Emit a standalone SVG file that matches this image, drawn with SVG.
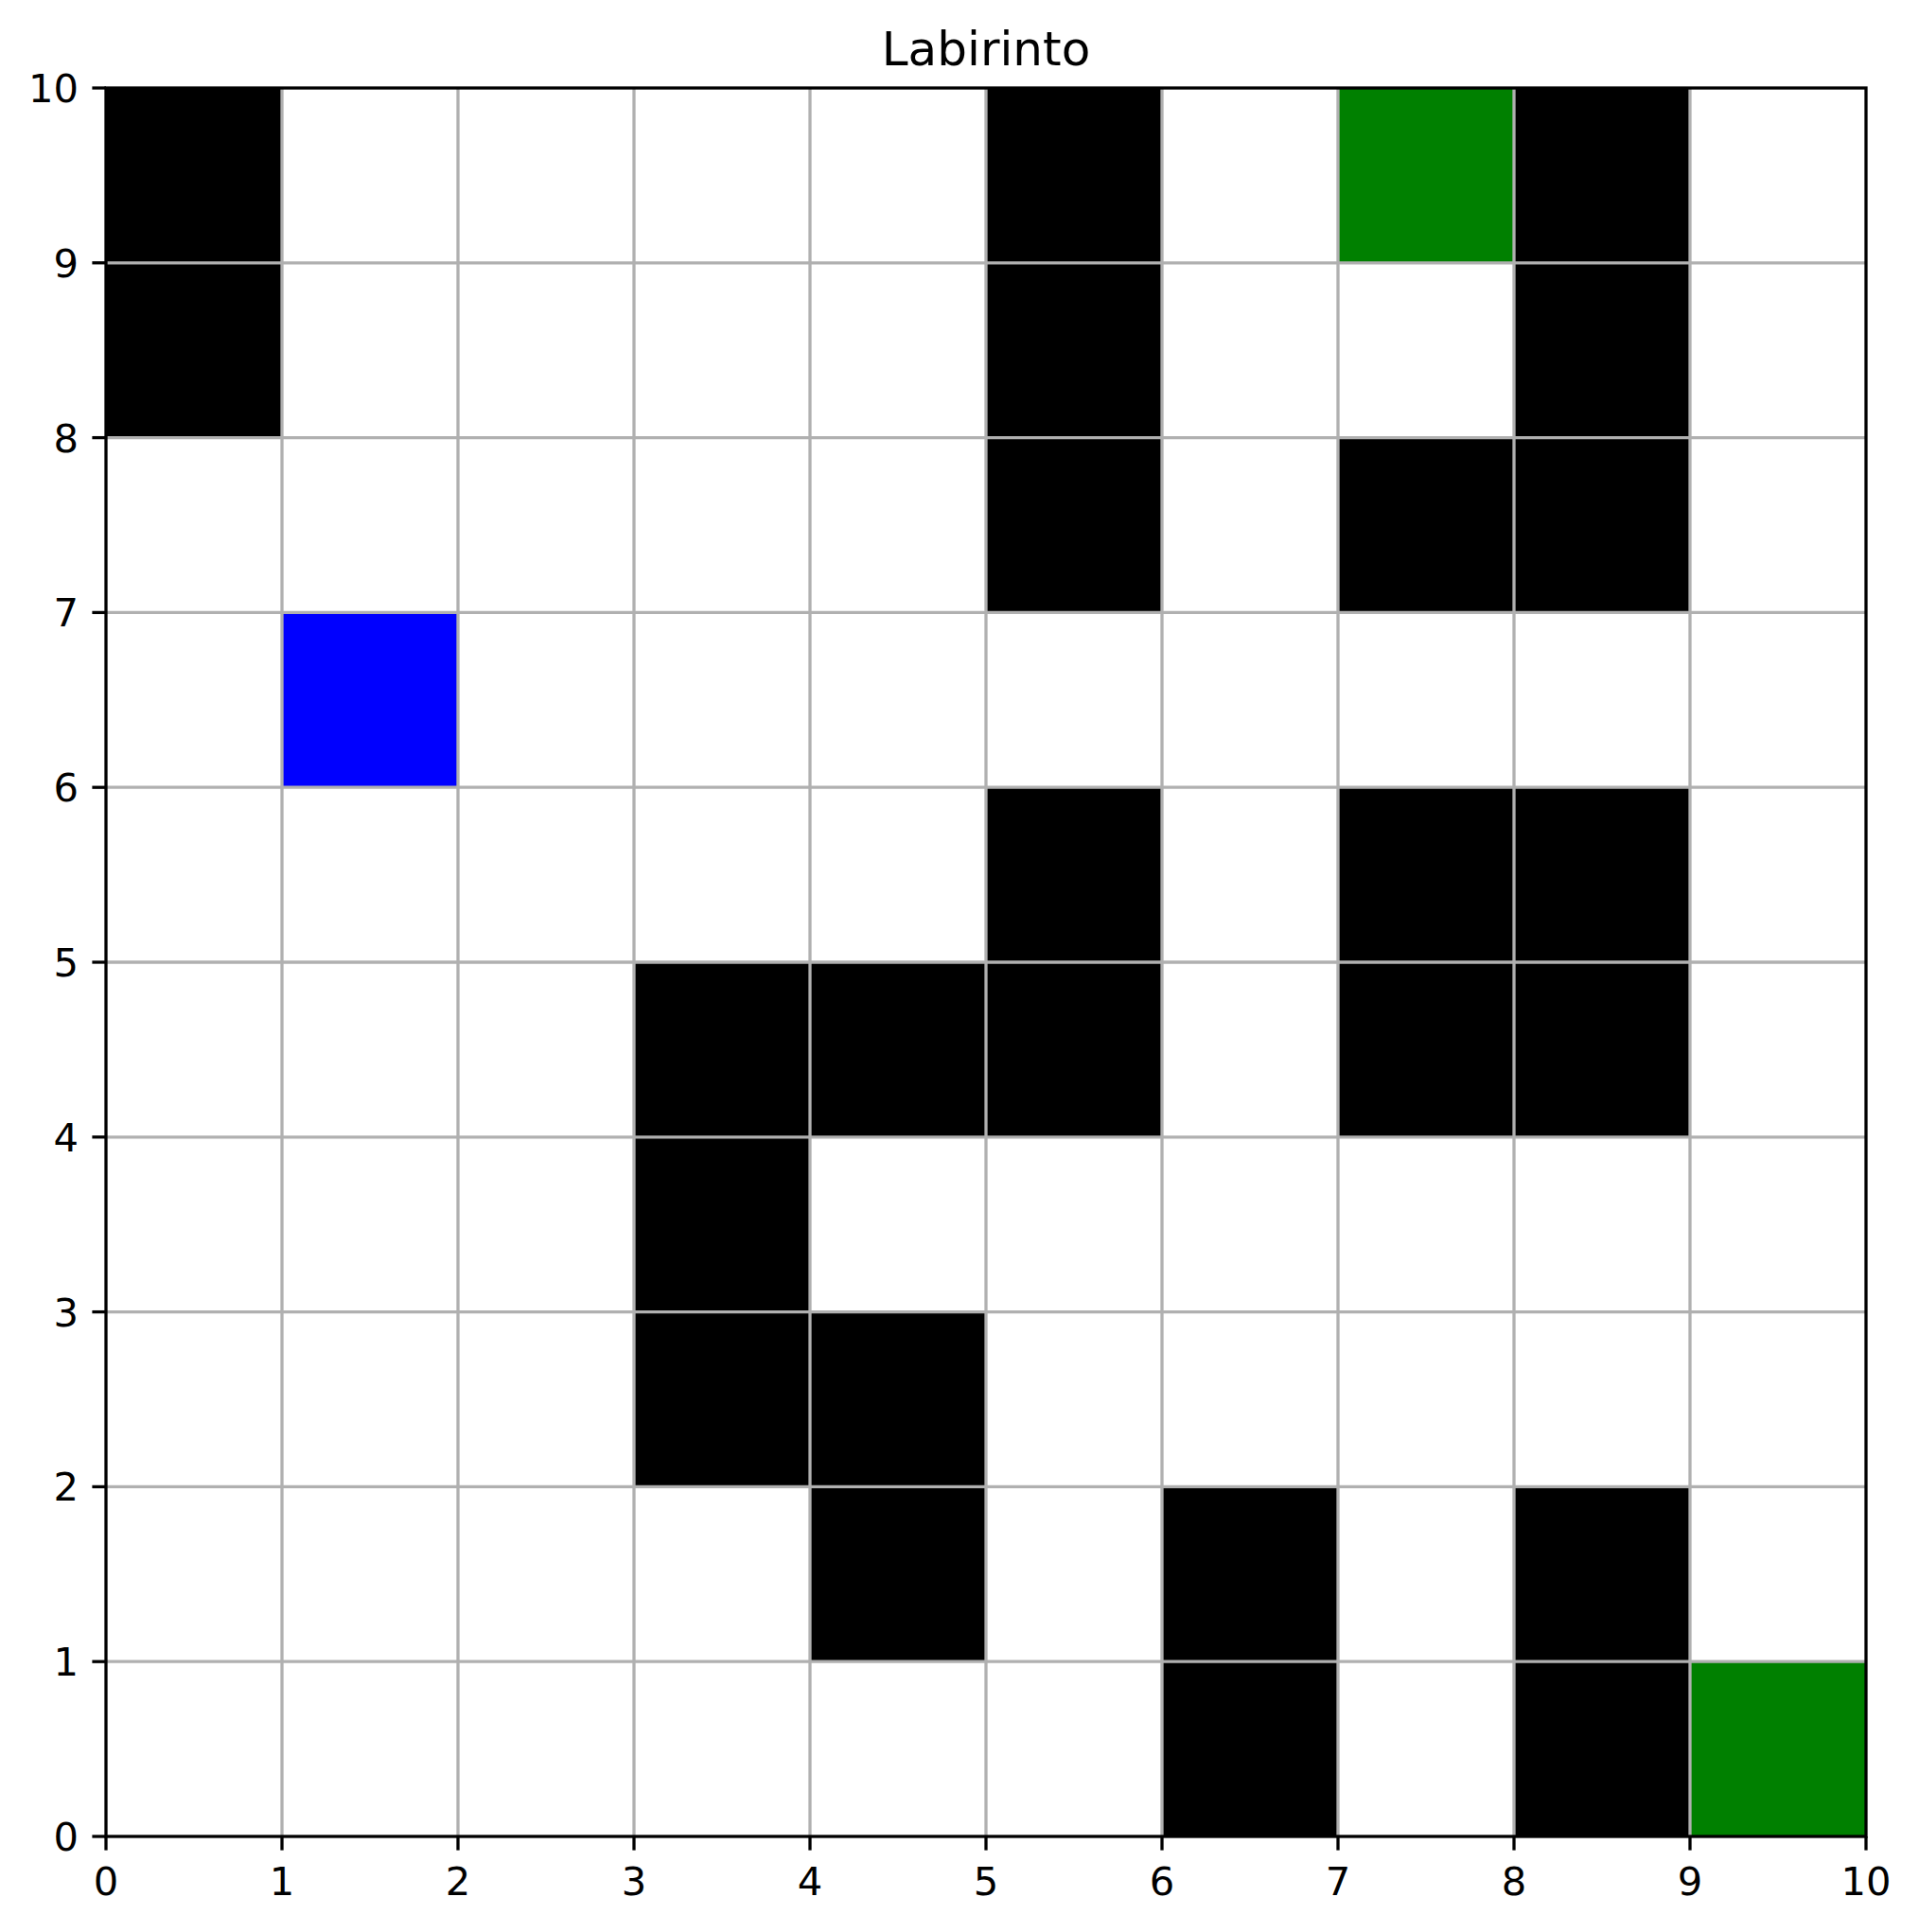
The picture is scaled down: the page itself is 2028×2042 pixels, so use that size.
<svg xmlns="http://www.w3.org/2000/svg" width="2028" height="2042" viewBox="0 0 2028 2042">
<style>
.t{font-family:"DejaVu Sans",sans-serif;font-size:41.7px;fill:#000}
.w{fill:#000}
.g{fill:#008000}
.b{fill:#0000ff}
.grid line{stroke:#b0b0b0;stroke-width:3.3}
.tick line{stroke:#000;stroke-width:3.3}
</style>
<rect width="2028" height="2042" fill="#fff"/>
<g id="cells">
<rect class="w" x="112" y="93" width="186" height="184.8"/>
<rect class="w" x="1042" y="93" width="186" height="184.8"/>
<rect class="g" x="1414" y="93" width="186" height="184.8"/>
<rect class="w" x="1600" y="93" width="186" height="184.8"/>
<rect class="w" x="112" y="277.8" width="186" height="184.8"/>
<rect class="w" x="1042" y="277.8" width="186" height="184.8"/>
<rect class="w" x="1600" y="277.8" width="186" height="184.8"/>
<rect class="w" x="1042" y="462.6" width="186" height="184.8"/>
<rect class="w" x="1414" y="462.6" width="186" height="184.8"/>
<rect class="w" x="1600" y="462.6" width="186" height="184.8"/>
<rect class="b" x="298" y="647.4" width="186" height="184.8"/>
<rect class="w" x="1042" y="832.2" width="186" height="184.8"/>
<rect class="w" x="1414" y="832.2" width="186" height="184.8"/>
<rect class="w" x="1600" y="832.2" width="186" height="184.8"/>
<rect class="w" x="670" y="1017" width="186" height="184.8"/>
<rect class="w" x="856" y="1017" width="186" height="184.8"/>
<rect class="w" x="1042" y="1017" width="186" height="184.8"/>
<rect class="w" x="1414" y="1017" width="186" height="184.8"/>
<rect class="w" x="1600" y="1017" width="186" height="184.8"/>
<rect class="w" x="670" y="1201.8" width="186" height="184.8"/>
<rect class="w" x="670" y="1386.6" width="186" height="184.8"/>
<rect class="w" x="856" y="1386.6" width="186" height="184.8"/>
<rect class="w" x="856" y="1571.4" width="186" height="184.8"/>
<rect class="w" x="1228" y="1571.4" width="186" height="184.8"/>
<rect class="w" x="1600" y="1571.4" width="186" height="184.8"/>
<rect class="w" x="1228" y="1756.2" width="186" height="184.8"/>
<rect class="w" x="1600" y="1756.2" width="186" height="184.8"/>
<rect class="g" x="1786" y="1756.2" width="186" height="184.8"/>
</g>
<g id="grid" class="grid">
<line x1="298" y1="93" x2="298" y2="1941"/>
<line x1="484" y1="93" x2="484" y2="1941"/>
<line x1="670" y1="93" x2="670" y2="1941"/>
<line x1="856" y1="93" x2="856" y2="1941"/>
<line x1="1042" y1="93" x2="1042" y2="1941"/>
<line x1="1228" y1="93" x2="1228" y2="1941"/>
<line x1="1414" y1="93" x2="1414" y2="1941"/>
<line x1="1600" y1="93" x2="1600" y2="1941"/>
<line x1="1786" y1="93" x2="1786" y2="1941"/>
<line x1="112" y1="277.8" x2="1972" y2="277.8"/>
<line x1="112" y1="462.6" x2="1972" y2="462.6"/>
<line x1="112" y1="647.4" x2="1972" y2="647.4"/>
<line x1="112" y1="832.2" x2="1972" y2="832.2"/>
<line x1="112" y1="1017" x2="1972" y2="1017"/>
<line x1="112" y1="1201.8" x2="1972" y2="1201.8"/>
<line x1="112" y1="1386.6" x2="1972" y2="1386.6"/>
<line x1="112" y1="1571.4" x2="1972" y2="1571.4"/>
<line x1="112" y1="1756.2" x2="1972" y2="1756.2"/>
</g>
<g id="spines">
<rect x="112" y="93" width="1860" height="1848" fill="none" stroke="#000" stroke-width="3.3" stroke-linecap="square"/>
</g>
<g id="xticks" class="tick">
<line x1="112" y1="1941" x2="112" y2="1955.6"/>
<line x1="298" y1="1941" x2="298" y2="1955.6"/>
<line x1="484" y1="1941" x2="484" y2="1955.6"/>
<line x1="670" y1="1941" x2="670" y2="1955.6"/>
<line x1="856" y1="1941" x2="856" y2="1955.6"/>
<line x1="1042" y1="1941" x2="1042" y2="1955.6"/>
<line x1="1228" y1="1941" x2="1228" y2="1955.6"/>
<line x1="1414" y1="1941" x2="1414" y2="1955.6"/>
<line x1="1600" y1="1941" x2="1600" y2="1955.6"/>
<line x1="1786" y1="1941" x2="1786" y2="1955.6"/>
<line x1="1972" y1="1941" x2="1972" y2="1955.6"/>
</g>
<g id="yticks" class="tick">
<line x1="112" y1="1941" x2="97.4" y2="1941"/>
<line x1="112" y1="1756.2" x2="97.4" y2="1756.2"/>
<line x1="112" y1="1571.4" x2="97.4" y2="1571.4"/>
<line x1="112" y1="1386.6" x2="97.4" y2="1386.6"/>
<line x1="112" y1="1201.8" x2="97.4" y2="1201.8"/>
<line x1="112" y1="1017" x2="97.4" y2="1017"/>
<line x1="112" y1="832.2" x2="97.4" y2="832.2"/>
<line x1="112" y1="647.4" x2="97.4" y2="647.4"/>
<line x1="112" y1="462.6" x2="97.4" y2="462.6"/>
<line x1="112" y1="277.8" x2="97.4" y2="277.8"/>
<line x1="112" y1="93" x2="97.4" y2="93"/>
</g>
<g id="xlabels" class="t" text-anchor="middle">
<text x="112" y="2003">0</text>
<text x="298" y="2003">1</text>
<text x="484" y="2003">2</text>
<text x="670" y="2003">3</text>
<text x="856" y="2003">4</text>
<text x="1042" y="2003">5</text>
<text x="1228" y="2003">6</text>
<text x="1414" y="2003">7</text>
<text x="1600" y="2003">8</text>
<text x="1786" y="2003">9</text>
<text x="1972" y="2003">10</text>
</g>
<g id="ylabels" class="t" text-anchor="end">
<text x="83" y="1956">0</text>
<text x="83" y="1771.2">1</text>
<text x="83" y="1586.4">2</text>
<text x="83" y="1401.6">3</text>
<text x="83" y="1216.8">4</text>
<text x="83" y="1032">5</text>
<text x="83" y="847.2">6</text>
<text x="83" y="662.4">7</text>
<text x="83" y="477.6">8</text>
<text x="83" y="292.8">9</text>
<text x="83" y="108">10</text>
</g>
<text id="title" x="1042" y="69" text-anchor="middle" font-family="DejaVu Sans, sans-serif" font-size="50px">Labirinto</text>
</svg>
